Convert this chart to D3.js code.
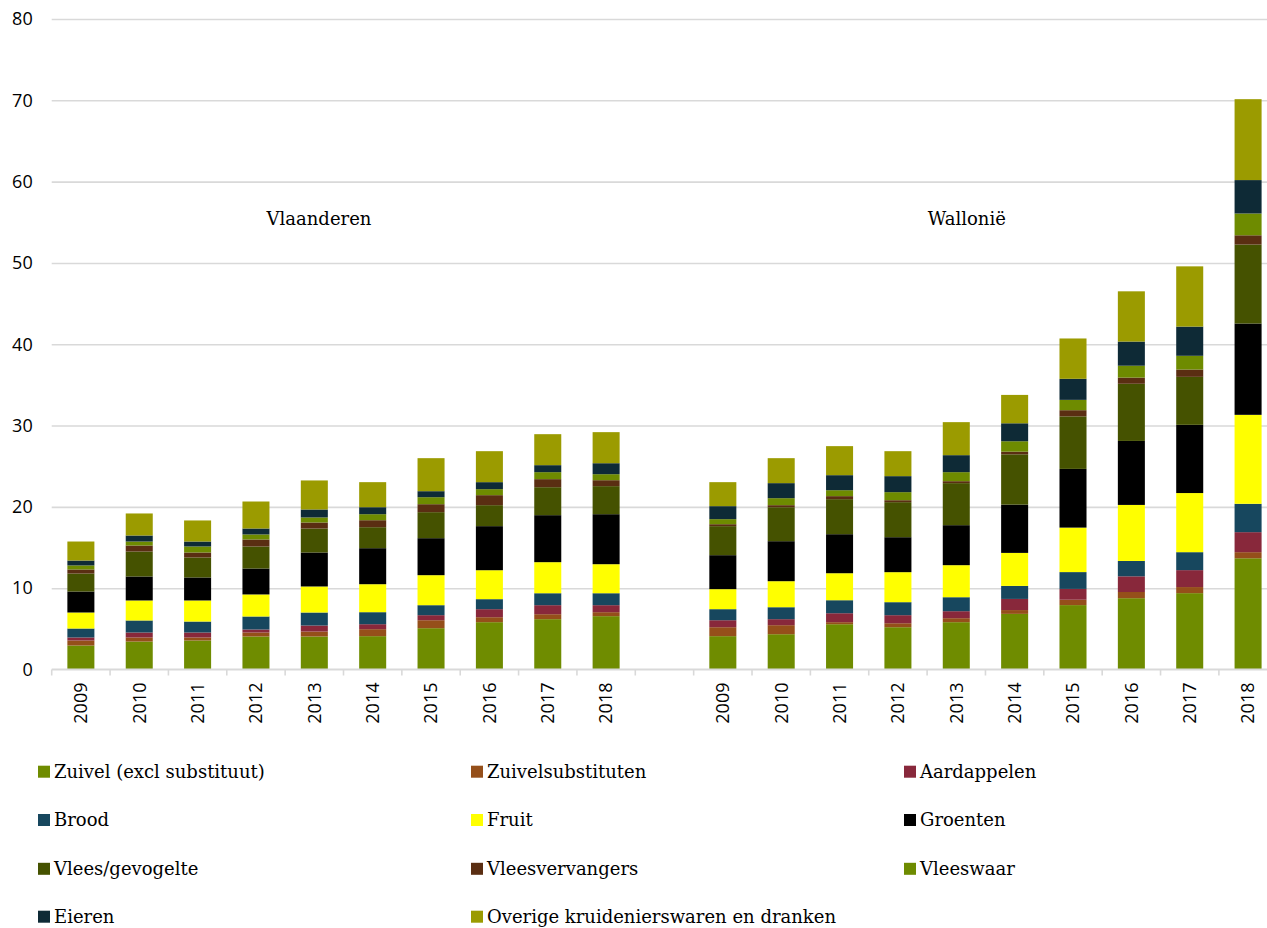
<!DOCTYPE html>
<html>
<head>
<meta charset="utf-8">
<script src="https://cdn.jsdelivr.net/npm/d3@7"></script>
<style>
  html, body { margin: 0; padding: 0; background: #fff; }
  svg { display: block; }
</style>
</head>
<body>
<svg id="chart" width="1267" height="928"></svg>
<script>
// ---------------- DATA ----------------
const regions = ["Vlaanderen", "Wallonië"];
const years = ["2009", "2010", "2011", "2012", "2013", "2014", "2015", "2016", "2017", "2018"];
const yTicks = [0, 10, 20, 30, 40, 50, 60, 70, 80];

const seriesNames = [
  "Zuivel (excl substituut)", "Zuivelsubstituten", "Aardappelen",
  "Brood", "Fruit", "Groenten",
  "Vlees/gevogelte", "Vleesvervangers", "Vleeswaar",
  "Eieren", "Overige kruidenierswaren en dranken"
];
const seriesColors = [
  "#6f8c00", "#954f1a", "#88283b",
  "#17475e", "#ffff00", "#000000",
  "#455200", "#5a2e12", "#6e8b00",
  "#0e2a36", "#9b9b00"
];

// each array: Vlaanderen 2009-2018, then Wallonië 2009-2018
const zuivel          = [2.95, 3.44, 3.57, 4.06, 4.06, 4.10, 5.08, 5.82, 6.19, 6.56,   4.10, 4.34, 5.57, 5.20, 5.82, 6.84, 7.92, 8.77, 9.39, 13.68];
const zuivelsubst     = [0.62, 0.50, 0.37, 0.49, 0.61, 0.86, 0.98, 0.61, 0.61, 0.49,   1.10, 1.11, 0.25, 0.49, 0.49, 0.47, 0.66, 0.76, 0.75, 0.75];
const aardappelen     = [0.37, 0.61, 0.61, 0.37, 0.74, 0.61, 0.62, 0.99, 1.11, 0.86,   0.86, 0.74, 1.10, 0.99, 0.86, 1.37, 1.33, 1.93, 2.08, 2.46];
const brood           = [1.10, 1.48, 1.35, 1.60, 1.60, 1.48, 1.23, 1.23, 1.47, 1.47,   1.36, 1.47, 1.60, 1.60, 1.72, 1.60, 2.07, 1.89, 2.21, 3.49];
const fruit           = [1.97, 2.46, 2.59, 2.71, 3.20, 3.44, 3.69, 3.56, 3.82, 3.57,   2.46, 3.20, 3.32, 3.69, 3.94, 4.06, 5.47, 6.89, 7.27, 10.94];
const groenten        = [2.58, 2.95, 2.83, 3.19, 4.18, 4.43, 4.55, 5.42, 5.78, 6.15,   4.18, 4.92, 4.80, 4.30, 4.92, 5.94, 7.22, 7.87, 8.39, 11.23];
const vlees           = [2.21, 3.07, 2.46, 2.71, 2.95, 2.58, 3.20, 2.58, 3.44, 3.45,   3.57, 4.18, 4.31, 4.31, 5.17, 6.18, 6.46, 7.03, 5.90, 9.71];
const vleesvervangers = [0.50, 0.74, 0.61, 0.86, 0.74, 0.86, 0.98, 1.23, 0.99, 0.73,   0.24, 0.25, 0.37, 0.24, 0.24, 0.33, 0.76, 0.76, 0.90, 1.14];
const vleeswaar       = [0.50, 0.49, 0.74, 0.62, 0.62, 0.74, 0.86, 0.74, 0.86, 0.74,   0.62, 0.86, 0.73, 0.99, 1.11, 1.28, 1.27, 1.46, 1.69, 2.68];
const eieren          = [0.60, 0.74, 0.61, 0.73, 0.98, 0.86, 0.74, 0.86, 0.86, 1.35,   1.60, 1.85, 1.85, 1.97, 2.09, 2.21, 2.59, 2.97, 3.59, 4.11];
const overige         = [2.34, 2.71, 2.59, 3.32, 3.57, 3.08, 4.06, 3.81, 3.81, 3.82,   2.95, 3.07, 3.57, 3.07, 4.06, 3.49, 4.96, 6.18, 7.41, 9.95];

const seriesValues = [zuivel, zuivelsubst, aardappelen, brood, fruit, groenten,
                      vlees, vleesvervangers, vleeswaar, eieren, overige];

// ---------------- BUILD TABLE ----------------
const keys = [];
const rows = [];
regions.forEach((r, ri) => {
  years.forEach((y, yi) => {
    const key = r + "-" + y;
    keys.push(key);
    const row = { key, year: y };
    seriesNames.forEach((s, si) => { row[s] = seriesValues[si][ri * years.length + yi]; });
    rows.push(row);
  });
  if (ri === 0) keys.push("gap");
});

// ---------------- LAYOUT ----------------
const svg = d3.select("#chart");
const left = 51.7, step = 58.36;
const right = left + keys.length * step;
const y0 = 669.5, yTop = 19;

const xBand = d3.scaleBand().domain(keys).range([left, right]).paddingInner(0.537).paddingOuter(0.2685);
const xFull = d3.scaleBand().domain(keys).range([left, right]).padding(0);
const y = d3.scaleLinear().domain([0, 80]).range([y0, yTop]);

const sansFont = "'Open Sans', sans-serif";
const serifFont = "'DejaVu Serif', serif";

// gridlines + y labels
const yAxis = d3.axisLeft(y).tickValues(yTicks).tickSize(-(1267 - left)).tickFormat(d3.format("d"));
const gy = svg.append("g").attr("transform", `translate(${left},0)`).call(yAxis);
gy.select(".domain").remove();
gy.selectAll(".tick line").attr("stroke", "#d9d9d9").attr("stroke-width", 1.6)
  .filter(d => d === 0).remove();
gy.selectAll(".tick text").attr("x", -19).attr("fill", "#000")
  .style("font-family", sansFont).style("font-size", "18px");

// stacked bars
const stack = d3.stack().keys(seriesNames);
const stacked = stack(rows);
const gBars = svg.append("g");
stacked.forEach((layer, i) => {
  gBars.append("g").attr("fill", seriesColors[i])
    .selectAll("rect").data(layer).join("rect")
    .attr("x", d => xBand(d.data.key))
    .attr("width", xBand.bandwidth())
    .attr("y", d => y(d[1]))
    .attr("height", d => y(d[0]) - y(d[1]));
});

// x axis line + boundary ticks
const gx = svg.append("g");
gx.append("line").attr("x1", left).attr("x2", 1267).attr("y1", y0).attr("y2", y0)
  .attr("stroke", "#d9d9d9").attr("stroke-width", 1.8);
const boundaries = keys.map(k => xFull(k)).concat([xFull(keys[keys.length - 1]) + xFull.step()]);
gx.selectAll("line.tk").data(boundaries).join("line").attr("class", "tk")
  .attr("x1", d => d).attr("x2", d => d).attr("y1", y0).attr("y2", y0 + 6)
  .attr("stroke", "#d9d9d9").attr("stroke-width", 1.6);

// year labels (rotated)
const xAxis = d3.axisBottom(xFull).tickSize(0).tickFormat(k => k === "gap" ? "" : k.split("-")[1]);
const gxl = svg.append("g").attr("transform", `translate(0,${y0})`).call(xAxis);
gxl.select(".domain").remove();
gxl.selectAll(".tick text")
  .attr("transform", "rotate(-90)")
  .attr("x", -13).attr("y", 0).attr("dy", "0.35em")
  .attr("text-anchor", "end").attr("fill", "#000")
  .style("font-family", sansFont).style("font-size", "18px");

// region labels
const regionPos = [xFull("Vlaanderen-2013") + 0.58 * step, xFull("Wallonië-2013") + 0.68 * step];
svg.append("g").selectAll("text").data(regions).join("text")
  .attr("x", (d, i) => regionPos[i]).attr("y", 225)
  .attr("text-anchor", "middle").attr("fill", "#000")
  .style("font-family", serifFont).style("font-size", "18px")
  .text(d => d);

// legend
const legendCols = [38, 471, 904];
const legendRows = [771.7, 820, 868.8, 916.7];
const gl = svg.append("g");
const items = gl.selectAll("g").data(seriesNames).join("g")
  .attr("transform", (d, i) => `translate(${legendCols[i % 3]},${legendRows[Math.floor(i / 3)]})`);
items.append("rect").attr("x", 0).attr("y", -6).attr("width", 12).attr("height", 12)
  .attr("fill", (d, i) => seriesColors[i]);
items.append("text").attr("x", 16).attr("y", 0).attr("dy", "0.35em").attr("fill", "#000")
  .style("font-family", serifFont).style("font-size", "18px")
  .text(d => d);
</script>
</body>
</html>
